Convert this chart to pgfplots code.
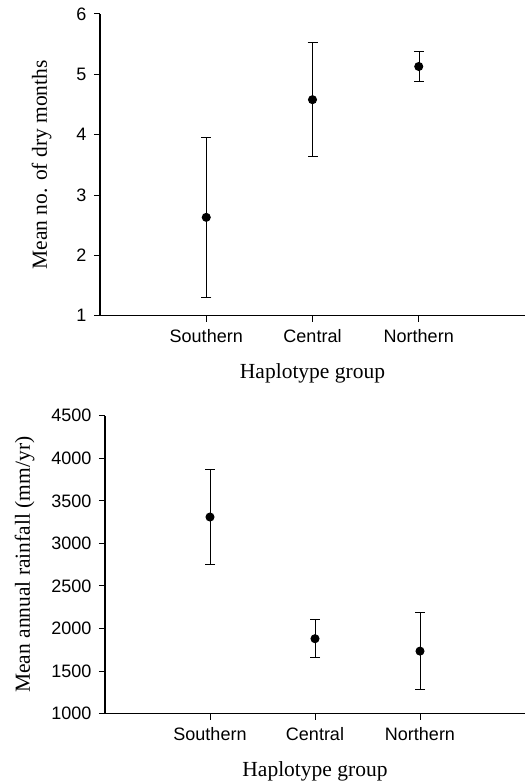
\documentclass[border=0pt]{standalone}
\usepackage{fontspec}
\setmainfont{Liberation Serif}
\newfontfamily\arial{Liberation Sans}
\usepackage{pgfplots}
\pgfplotsset{compat=1.18}

\pgfplotsset{
  panel/.style={
    scale only axis,
    axis lines*=left,
    tick align=outside,
    major tick length=6pt,
    xmin=0, xmax=4,
    xtick={1,2,3},
    xticklabels={Southern,Central,Northern},
    ticklabel style={font=\arial\fontsize{18}{18}\selectfont},
    yticklabel style={xshift=-4pt},
    xticklabel style={yshift=-4pt},
    /pgf/number format/assume math mode=true,
    /pgf/number format/1000 sep={},
    label style={font=\fontsize{21.5}{21.5}\selectfont},
    xlabel={Haplotype group},
    xlabel shift=14pt,
    axis line style={line width=1.2pt},
    every tick/.style={black, line width=1pt},
  },
  pts/.style={
    only marks, black, mark=*, mark size=4pt, line width=1pt,
    error bars/y dir=both, error bars/y explicit,
    error bars/error mark options={rotate=90, mark size=5pt, line width=1pt},
  }
}

\begin{document}
\begin{tikzpicture}[x=1pt,y=1pt]
\useasboundingbox (0,0) rectangle (525,781);

% dry months
\begin{axis}[panel,
  at={(100pt,465.3pt)}, anchor=south west,
  width=425pt, height=301.7pt,
  ymin=1, ymax=6, ytick={1,2,3,4,5,6},
  ylabel={Mean no. of dry months},
  ylabel shift=18pt,
]
\addplot[pts] coordinates {
  (1,2.63) +- (0,1.33)
  (2,4.58) +- (0,0.94)
  (3,5.13) +- (0,0.25)
};
\end{axis}

% rainfall
\begin{axis}[panel,
  at={(105pt,67.3pt)}, anchor=south west,
  width=420pt, height=298pt,
  ymin=1000, ymax=4500, ytick={1000,1500,...,4500},
  ylabel={Mean annual rainfall (mm/yr)},
  ylabel shift=10pt,
]
\addplot[pts] coordinates {
  (1,3310) +- (0,558)
  (2,1881) +- (0,225)
  (3,1735) +- (0,452)
};
\end{axis}
\end{tikzpicture}
\end{document}
